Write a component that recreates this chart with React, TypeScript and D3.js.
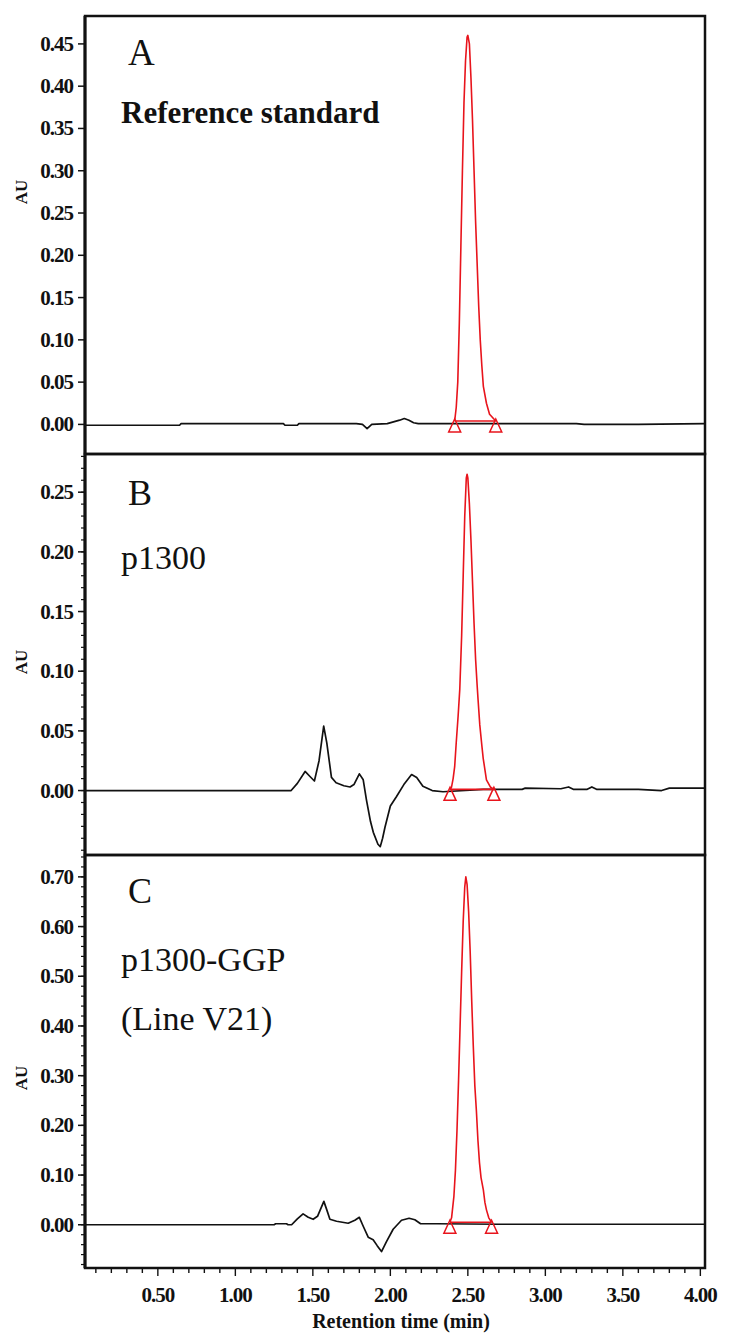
import React, { useEffect, useRef } from "react";
import * as d3 from "d3";

type Pt = [number, number];

// retention time (min), absorbance (AU)
const traceA: Pt[] = [
  [0.03, -0.001], [0.64, -0.001], [0.65, 0.001], [1.31, 0.001], [1.32, -0.001],
  [1.4, -0.001], [1.41, 0.001], [1.78, 0.001], [1.82, 0.0], [1.85, -0.005],
  [1.88, 0.0], [1.98, 0.001], [2.02, 0.003], [2.06, 0.005], [2.09, 0.007],
  [2.12, 0.005], [2.15, 0.002], [2.18, 0.001], [2.4, 0.001], [2.7, 0.001],
  [3.2, 0.001], [3.25, 0.0], [3.6, 0.0], [4.03, 0.001],
];
const peakA: Pt[] = [
  [2.415, 0.004], [2.425, 0.02], [2.435, 0.05], [2.445, 0.12], [2.455, 0.21],
  [2.465, 0.3], [2.475, 0.38], [2.485, 0.43], [2.495, 0.458], [2.5, 0.46],
  [2.51, 0.45], [2.52, 0.41], [2.53, 0.36], [2.54, 0.3], [2.55, 0.24],
  [2.56, 0.19], [2.57, 0.14], [2.58, 0.1], [2.59, 0.07], [2.6, 0.045],
  [2.62, 0.025], [2.64, 0.012], [2.68, 0.004],
];
const marksA = [2.415, 2.68];
const redBaseA = 0.004;

const traceB: Pt[] = [
  [0.03, 0.0], [1.36, 0.0], [1.4, 0.006], [1.45, 0.016], [1.48, 0.012],
  [1.51, 0.008], [1.54, 0.025], [1.57, 0.054], [1.59, 0.04], [1.62, 0.011],
  [1.65, 0.0065], [1.7, 0.004], [1.74, 0.003], [1.765, 0.005], [1.8, 0.014],
  [1.825, 0.009], [1.846, -0.008], [1.872, -0.026], [1.89, -0.035], [1.92, -0.045],
  [1.935, -0.047], [1.95, -0.04], [1.965, -0.031], [2.0, -0.013], [2.04, -0.005],
  [2.087, 0.005], [2.137, 0.0134], [2.17, 0.011], [2.21, 0.0036], [2.27, 0.0],
  [2.34, -0.001], [2.6, 0.001], [2.85, 0.001], [2.87, 0.002], [3.1, 0.0015],
  [3.15, 0.003], [3.18, 0.001], [3.27, 0.001], [3.3, 0.003], [3.33, 0.001],
  [3.6, 0.001], [3.75, 0.0], [3.8, 0.002], [4.03, 0.002],
];
const peakB: Pt[] = [
  [2.385, 0.001], [2.395, 0.003], [2.405, 0.01], [2.415, 0.02], [2.425, 0.04],
  [2.437, 0.062], [2.448, 0.085], [2.46, 0.13], [2.47, 0.18], [2.48, 0.23],
  [2.49, 0.262], [2.495, 0.265], [2.5, 0.262], [2.51, 0.24], [2.52, 0.21],
  [2.53, 0.175], [2.54, 0.14], [2.55, 0.11], [2.56, 0.088], [2.566, 0.076],
  [2.577, 0.055], [2.59, 0.038], [2.599, 0.027], [2.62, 0.009], [2.645, 0.003],
  [2.668, 0.001],
];
const marksB = [2.385, 2.668];
const redBaseB = 0.001;

const traceC: Pt[] = [
  [0.03, 0.0], [1.25, 0.0], [1.26, 0.002], [1.33, 0.002], [1.34, 0.0],
  [1.363, 0.0], [1.4, 0.012], [1.437, 0.022], [1.47, 0.015], [1.502, 0.011],
  [1.53, 0.017], [1.571, 0.047], [1.59, 0.03], [1.61, 0.011], [1.653, 0.007],
  [1.728, 0.003], [1.771, 0.009], [1.8, 0.015], [1.825, -0.003], [1.857, -0.025],
  [1.889, -0.03], [1.915, -0.042], [1.943, -0.054], [1.975, -0.034], [2.018, -0.009],
  [2.072, 0.009], [2.121, 0.013], [2.158, 0.01], [2.195, 0.002], [2.3, 0.002],
  [2.7, 0.001], [3.03, 0.001], [4.03, 0.001],
];
const peakC: Pt[] = [
  [2.384, 0.005], [2.395, 0.014], [2.41, 0.057], [2.42, 0.11], [2.43, 0.19],
  [2.44, 0.29], [2.45, 0.4], [2.46, 0.51], [2.47, 0.61], [2.48, 0.68],
  [2.487, 0.7], [2.495, 0.685], [2.505, 0.63], [2.515, 0.55], [2.525, 0.45],
  [2.535, 0.36], [2.545, 0.28], [2.555, 0.23], [2.565, 0.17], [2.575, 0.125],
  [2.585, 0.095], [2.6, 0.07], [2.61, 0.045], [2.62, 0.03], [2.635, 0.014],
  [2.653, 0.005],
];
const marksC = [2.384, 2.653];
const redBaseC = 0.005;

const yTicksA = [0, 0.05, 0.1, 0.15, 0.2, 0.25, 0.3, 0.35, 0.4, 0.45];
const yTicksB = [0, 0.05, 0.1, 0.15, 0.2, 0.25];
const yTicksC = [0, 0.1, 0.2, 0.3, 0.4, 0.5, 0.6, 0.7];
const xTicks = [0.5, 1.0, 1.5, 2.0, 2.5, 3.0, 3.5, 4.0];

const panels = [
  {
    id: "A", top: 16, bottom: 454, domain: [-0.035, 0.483], ticks: yTicksA, minorStep: 0,
    trace: traceA, peak: peakA, marks: marksA, redBase: redBaseA,
    texts: [{ t: "A", y: 65, size: 37, bold: false }, { t: "Reference standard", y: 123, size: 31, bold: true }],
    auY: 192,
  },
  {
    id: "B", top: 454, bottom: 855, domain: [-0.054, 0.282], ticks: yTicksB, minorStep: 0.01,
    trace: traceB, peak: peakB, marks: marksB, redBase: redBaseB,
    texts: [{ t: "B", y: 505, size: 36, bold: false }, { t: "p1300", y: 569, size: 34, bold: false }],
    auY: 662,
  },
  {
    id: "C", top: 855, bottom: 1268, domain: [-0.087, 0.744], ticks: yTicksC, minorStep: 0.02,
    trace: traceC, peak: peakC, marks: marksC, redBase: redBaseC,
    texts: [
      { t: "C", y: 903, size: 36, bold: false },
      { t: "p1300-GGP", y: 971, size: 34, bold: false },
      { t: "(Line V21)", y: 1030, size: 34, bold: false },
    ],
    auY: 1078,
  },
];

const W = 732;
const H = 1342;
const left = 85;
const right = 705;
const serif = "'Liberation Serif', 'Times New Roman', serif";

export default function App() {
  const ref = useRef<SVGSVGElement | null>(null);

  useEffect(() => {
    if (!ref.current) return;
    const svg = d3.select(ref.current);
    svg.selectAll("*").remove();

    const x = d3.scaleLinear().domain([0.03, 4.03]).range([left, right]);

    panels.forEach((p) => {
      const y = d3.scaleLinear().domain(p.domain).range([p.bottom, p.top]);
      const g = svg.append("g");

      const clipId = `clip-${p.id}`;
      g.append("clipPath")
        .attr("id", clipId)
        .append("rect")
        .attr("x", left)
        .attr("y", p.top)
        .attr("width", right - left)
        .attr("height", p.bottom - p.top);

      const line = d3
        .line<Pt>()
        .x((d) => x(d[0]))
        .y((d) => y(d[1]));

      const plot = g.append("g").attr("clip-path", `url(#${clipId})`);

      // black chromatogram
      plot.append("path")
        .datum(p.trace)
        .attr("d", line)
        .attr("fill", "none")
        .attr("stroke", "#111")
        .attr("stroke-width", 1.7)
        .attr("stroke-linejoin", "round");

      // integrated peak (red)
      plot.append("line")
        .attr("x1", x(p.marks[0]))
        .attr("x2", x(p.marks[1]))
        .attr("y1", y(p.redBase))
        .attr("y2", y(p.redBase))
        .attr("stroke", "#e8141c")
        .attr("stroke-width", 1.6);

      plot.append("path")
        .datum(p.peak)
        .attr("d", line)
        .attr("fill", "none")
        .attr("stroke", "#e8141c")
        .attr("stroke-width", 1.6)
        .attr("stroke-linejoin", "round");

      plot.selectAll("path.mark")
        .data(p.marks)
        .join("path")
        .attr("class", "mark")
        .attr("d", (d) => {
          const cx = x(d);
          const cy = y(p.redBase);
          return `M${cx},${cy - 2}L${cx - 6},${cy + 11}L${cx + 6},${cy + 11}Z`;
        })
        .attr("fill", "none")
        .attr("stroke", "#e8141c")
        .attr("stroke-width", 1.5);

      // y axis ticks
      if (p.minorStep > 0) {
        const minor = d3.range(
          Math.ceil(p.domain[0] / p.minorStep) * p.minorStep,
          p.domain[1],
          p.minorStep
        );
        g.selectAll("line.minor")
          .data(minor)
          .join("line")
          .attr("class", "minor")
          .attr("x1", left - 4)
          .attr("x2", left)
          .attr("y1", (d) => y(d))
          .attr("y2", (d) => y(d))
          .attr("stroke", "#111")
          .attr("stroke-width", 1.2);
      }
      g.selectAll("line.major")
        .data(p.ticks)
        .join("line")
        .attr("class", "major")
        .attr("x1", left - 7)
        .attr("x2", left)
        .attr("y1", (d) => y(d))
        .attr("y2", (d) => y(d))
        .attr("stroke", "#111")
        .attr("stroke-width", 1.5);
      g.selectAll("text.tick")
        .data(p.ticks)
        .join("text")
        .attr("class", "tick")
        .attr("x", left - 12)
        .attr("y", (d) => y(d) + 7)
        .attr("text-anchor", "end")
        .attr("font-family", serif)
        .attr("font-weight", "bold")
        .attr("font-size", 21)
        .attr("letter-spacing", -1)
        .attr("fill", "#111")
        .text((d) => d3.format(".2f")(d));

      // AU
      g.append("text")
        .attr("transform", `translate(27,${p.auY}) rotate(-90)`)
        .attr("text-anchor", "middle")
        .attr("font-family", serif)
        .attr("font-weight", "bold")
        .attr("font-size", 17)
        .attr("fill", "#111")
        .text("AU");

      // panel labels
      p.texts.forEach((t) => {
        g.append("text")
          .attr("x", t.t === p.id ? 128 : 121)
          .attr("y", t.y)
          .attr("font-family", serif)
          .attr("font-weight", t.bold ? "bold" : "normal")
          .attr("font-size", t.size)
          .attr("fill", "#111")
          .text(t.t);
      });

      // frame
      g.append("rect")
        .attr("x", left)
        .attr("y", p.top)
        .attr("width", right - left)
        .attr("height", p.bottom - p.top)
        .attr("fill", "none")
        .attr("stroke", "#111")
        .attr("stroke-width", 2.5);
    });

    // outer frame left edge a bit heavier
    svg.append("line")
      .attr("x1", left)
      .attr("x2", left)
      .attr("y1", 16)
      .attr("y2", 1268)
      .attr("stroke", "#111")
      .attr("stroke-width", 3);

    // x axis
    const xb = 1268;
    const xMinor = d3.range(1, 41).map((d) => d / 10);
    svg.append("g")
      .selectAll("line")
      .data(xMinor)
      .join("line")
      .attr("x1", (d) => x(d))
      .attr("x2", (d) => x(d))
      .attr("y1", xb)
      .attr("y2", (d) => (xTicks.some((t) => Math.abs(t - d) < 1e-6) ? xb + 8 : xb + 5))
      .attr("stroke", "#111")
      .attr("stroke-width", 1.4);

    svg.append("g")
      .selectAll("text")
      .data(xTicks)
      .join("text")
      .attr("x", (d) => x(d))
      .attr("y", 1302)
      .attr("text-anchor", "middle")
      .attr("font-family", serif)
      .attr("font-weight", "bold")
      .attr("font-size", 21)
      .attr("letter-spacing", -1)
      .attr("fill", "#111")
      .text((d) => d3.format(".2f")(d));

    svg.append("text")
      .attr("x", 401)
      .attr("y", 1328)
      .attr("text-anchor", "middle")
      .attr("font-family", serif)
      .attr("font-weight", "bold")
      .attr("font-size", 20)
      .attr("fill", "#111")
      .text("Retention time (min)");
  }, []);

  return (
    <svg
      ref={ref}
      width={W}
      height={H}
      style={{ position: "absolute", left: 0, top: 0, background: "#fff" }}
    />
  );
}
